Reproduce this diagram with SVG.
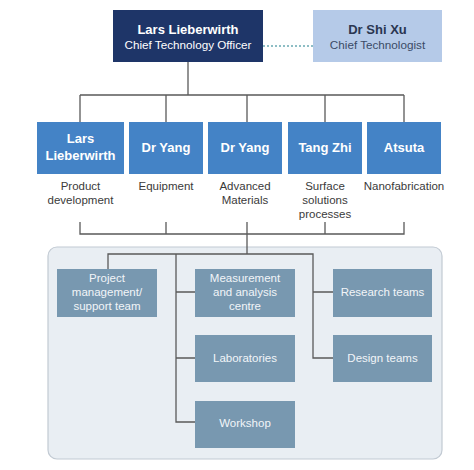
<svg xmlns="http://www.w3.org/2000/svg" width="474" height="470" viewBox="0 0 474 470">
<style>
text{font-family:"Liberation Sans",Arial,sans-serif;text-anchor:middle}
.ln{stroke:#5a5a5a;stroke-width:1.3;fill:none}
.blue{fill:#4483c6}
.bt{fill:#fff;font-size:13px;font-weight:bold}
.lab{fill:#3a3a3a;font-size:11.5px}
.slate{fill:#7898b0}
.st{fill:#f2f5f8;font-size:11.5px}
</style>
<rect width="474" height="470" fill="#fff"/>
<rect x="48" y="247" width="394" height="212" rx="9" fill="#e9eef3" stroke="#c2cad3" stroke-width="1.2"/>
<g id="connectors">
<line x1="263" y1="46" x2="313" y2="46" stroke="#6aa9b2" stroke-width="1.3" stroke-dasharray="2,2"/>
<path class="ln" d="M188,62V95M80,95H404M80,95V122M166,95V122M247,95V122M325,95V122M404,95V122"/>
<path class="ln" d="M80,222V234H404V222M166,222V234M325,222V234M247,222V254"/>
<path class="ln" d="M108,269V254H313V358H333M313,292H333M176,254V422H195M176,292H195M176,358H195"/>
</g>
<g id="cto"><rect x="113" y="10" width="150" height="52" fill="#1e3568"/>
<text x="188" y="34" fill="#fff" font-size="13" font-weight="bold">Lars Lieberwirth</text>
<text x="188" y="49" fill="#fff" font-size="11.7">Chief Technology Officer</text></g>
<g id="shixu"><rect x="313" y="10" width="129" height="52" fill="#b5cae8"/>
<text x="377.5" y="34" fill="#2a3650" font-size="13" font-weight="bold">Dr Shi Xu</text>
<text x="377.5" y="49" fill="#3a4a66" font-size="11.7">Chief Technologist</text></g>
<g id="n1"><rect class="blue" x="37" y="122" width="87" height="52"/>
<text class="bt" x="80.5" y="143">Lars</text><text class="bt" x="80.5" y="160">Lieberwirth</text>
<text class="lab" x="80.5" y="190">Product</text><text class="lab" x="80.5" y="204">development</text></g>
<g id="n2"><rect class="blue" x="129" y="122" width="74" height="52"/>
<text class="bt" x="166" y="152">Dr Yang</text>
<text class="lab" x="166" y="190">Equipment</text></g>
<g id="n3"><rect class="blue" x="208" y="122" width="74" height="52"/>
<text class="bt" x="245" y="152">Dr Yang</text>
<text class="lab" x="245" y="190">Advanced</text><text class="lab" x="245" y="204">Materials</text></g>
<g id="n4"><rect class="blue" x="288" y="122" width="74" height="52"/>
<text class="bt" x="325" y="152">Tang Zhi</text>
<text class="lab" x="325" y="190">Surface</text><text class="lab" x="325" y="204">solutions</text><text class="lab" x="325" y="218">processes</text></g>
<g id="n5"><rect class="blue" x="367" y="122" width="74" height="52"/>
<text class="bt" x="404" y="152">Atsuta</text>
<text class="lab" x="404" y="190">Nanofabrication</text></g>
<g id="project"><rect class="slate" x="57" y="269" width="100" height="48"/>
<text class="st" x="107" y="282">Project</text><text class="st" x="107" y="296">management/</text><text class="st" x="107" y="310">support team</text></g>
<g id="measurement"><rect class="slate" x="195" y="269" width="100" height="48"/>
<text class="st" x="245" y="282">Measurement</text><text class="st" x="245" y="296">and analysis</text><text class="st" x="245" y="310">centre</text></g>
<g id="research"><rect class="slate" x="333" y="269" width="99" height="48"/>
<text class="st" x="382.5" y="296">Research teams</text></g>
<g id="labs"><rect class="slate" x="195" y="335" width="100" height="47"/>
<text class="st" x="245" y="362">Laboratories</text></g>
<g id="design"><rect class="slate" x="333" y="335" width="99" height="47"/>
<text class="st" x="382.5" y="362">Design teams</text></g>
<g id="workshop"><rect class="slate" x="195" y="401" width="100" height="47"/>
<text class="st" x="245" y="427">Workshop</text></g>
</svg>
